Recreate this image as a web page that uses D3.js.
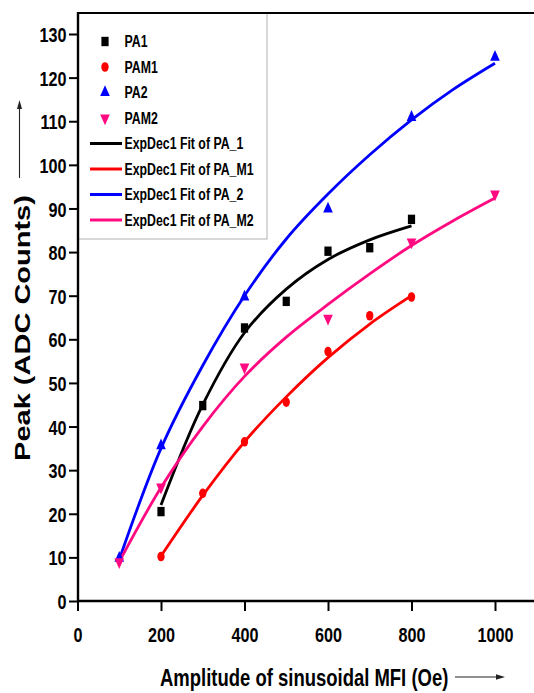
<!DOCTYPE html>
<html>
<head>
<meta charset="utf-8">
<script src="https://cdn.jsdelivr.net/npm/d3@7"></script>
<style>
  body { margin: 0; background: #fff; }
  svg text { font-family: "Liberation Sans", Arial, sans-serif; font-weight: bold; fill: #000; }
</style>
</head>
<body>
<svg id="chart" width="534" height="693"></svg>
<script>
// measured points
var xPA1 = [200, 300, 400, 500, 600, 700, 800];
var yPA1 = [20.5, 44.8, 62.6, 68.7, 80.2, 81, 87.5];
var xPAM1 = [200, 300, 400, 500, 600, 700, 800];
var yPAM1 = [10.2, 24.7, 36.5, 45.6, 57.2, 65.4, 69.7];
var xPA2 = [100, 200, 400, 600, 800, 1000];
var yPA2 = [9.8, 35.6, 69.7, 89.9, 110.9, 124.7];
var xPAM2 = [100, 200, 400, 600, 800, 1000];
var yPAM2 = [9, 26.1, 53.6, 64.8, 82.3, 93.3];

// fit curves
var fitX1 = [200, 300, 400, 500, 600, 700, 800];
var fitPA1 = [22, 45, 61.5, 71.5, 78.3, 82.8, 86];
var fitXM1 = [200, 300, 400, 500, 600, 700, 800];
var fitPAM1 = [10.3, 24.2, 36.5, 46.8, 55.8, 63.5, 70];
var fitX2 = [100, 200, 300, 400, 500, 600, 700, 800, 900, 1000];
var fitPA2 = [9.5, 35, 54, 70, 83, 93.3, 102.3, 110.3, 117.3, 123.3];
var fitXM2 = [100, 200, 300, 400, 500, 600, 700, 800, 900, 1000];
var fitPAM2 = [9, 26, 40, 51.5, 60.5, 68, 75, 81.5, 87.2, 92.4];

var xTicks = [0, 200, 400, 600, 800, 1000];
var xMinor = [100, 300, 500, 700, 900];
var yTicks = d3.range(0, 131, 10);
var yMinor = d3.range(5, 131, 10);

var legendNames = ["PA1", "PAM1", "PA2", "PAM2",
  "ExpDec1 Fit of PA_1", "ExpDec1 Fit of PA_M1", "ExpDec1 Fit of PA_2", "ExpDec1 Fit of PA_M2"];

var colors = ["#000000", "#ff0000", "#0000ff", "#ff0a80"];
var SQ = 0.77; // horizontal squeeze of the original figure

var svg = d3.select("#chart");

var x = d3.scaleLinear().domain([0, 1000]).range([77.5, 495]);
var y = d3.scaleLinear().domain([0, 130]).range([601, 34]);

// axes
var gy = svg.append("g").attr("transform", "translate(78,0)");
gy.call(d3.axisLeft(y).tickValues(yMinor).tickSize(5).tickSizeOuter(0).tickFormat(""));
gy.call(d3.axisLeft(y).tickValues(yTicks).tickSize(9).tickSizeOuter(0).tickFormat(d3.format("d")));
gy.selectAll(".domain").remove();
gy.selectAll("line").attr("stroke", "#000").attr("stroke-width", 2);
gy.selectAll("text")
  .attr("x", null).attr("dy", "0.36em")
  .attr("transform", "translate(-11.5,0) scale(" + SQ + ",1)")
  .style("font-size", "21px");
gy.attr("font-family", null).attr("font-size", null);

var gx = svg.append("g").attr("transform", "translate(0,601)");
gx.call(d3.axisBottom(x).tickValues(xMinor).tickSize(6).tickSizeOuter(0).tickFormat(""));
gx.call(d3.axisBottom(x).tickValues(xTicks).tickSize(10).tickSizeOuter(0).tickFormat(d3.format("d")));
gx.selectAll(".domain").remove();
gx.selectAll("line").attr("stroke", "#000").attr("stroke-width", 2);
gx.selectAll("text")
  .attr("y", null).attr("dy", null)
  .attr("transform", "translate(0,40.7) scale(" + SQ + ",1)")
  .style("font-size", "21px");
gx.attr("font-family", null).attr("font-size", null);

// legend box
svg.append("rect").attr("x", 78).attr("y", 13).attr("width", 189).attr("height", 226)
  .attr("fill", "none").attr("stroke", "#b0b0b0").attr("stroke-width", 1);

// frame lines
svg.append("line").attr("x1", 78).attr("x2", 78).attr("y1", 12).attr("y2", 602)
  .attr("stroke", "#000").attr("stroke-width", 2.4);
svg.append("line").attr("x1", 77).attr("x2", 534).attr("y1", 601).attr("y2", 601)
  .attr("stroke", "#000").attr("stroke-width", 2.4);
svg.append("line").attr("x1", 77).attr("x2", 534).attr("y1", 13).attr("y2", 13)
  .attr("stroke", "#000").attr("stroke-width", 2);

// fit lines
var line = d3.line().curve(d3.curveCatmullRom.alpha(0.5))
  .x(function(d) { return x(d[0]); })
  .y(function(d) { return y(d[1]); });

var fits = [
  d3.zip(fitX1, fitPA1),
  d3.zip(fitXM1, fitPAM1),
  d3.zip(fitX2, fitPA2),
  d3.zip(fitXM2, fitPAM2)
];
fits.forEach(function(f, i) {
  svg.append("path").datum(f).attr("d", line)
    .attr("fill", "none").attr("stroke", colors[i]).attr("stroke-width", 2.8);
});

// markers
var symTypes = [d3.symbolSquare, d3.symbolCircle, d3.symbolTriangle, d3.symbolTriangle];
var symSizes = [88, 72, 68, 68];
var symRot = [0, 0, 0, 180];
var series = [
  d3.zip(xPA1, yPA1),
  d3.zip(xPAM1, yPAM1),
  d3.zip(xPA2, yPA2),
  d3.zip(xPAM2, yPAM2)
];
function symbolAt(g, px, py, i) {
  g.append("path")
    .attr("d", d3.symbol().type(symTypes[i]).size(symSizes[i])())
    .attr("transform", "translate(" + px + "," + py + ") scale(" + SQ + ",1) rotate(" + symRot[i] + ")")
    .attr("fill", colors[i]);
}
var gm = svg.append("g");
series.forEach(function(s, i) {
  s.forEach(function(d) { symbolAt(gm, x(d[0]), y(d[1]), i); });
});

// legend entries
var lg = svg.append("g");
legendNames.forEach(function(name, i) {
  var cy = 41.5 + i * 25.5;
  if (i < 4) {
    symbolAt(lg, 105, cy, i);
  } else {
    lg.append("line").attr("x1", 90).attr("x2", 122).attr("y1", cy).attr("y2", cy)
      .attr("stroke", colors[i - 4]).attr("stroke-width", 3);
  }
  lg.append("text")
    .attr("transform", "translate(124.5," + cy + ") scale(" + SQ + ",1)")
    .attr("dy", "0.36em")
    .style("font-size", "16px")
    .text(name);
});

// axis titles
svg.append("text")
  .attr("transform", "translate(160,685.7) scale(" + SQ + ",1)")
  .style("font-size", "24px")
  .text("Amplitude of sinusoidal MFI (Oe)");
svg.append("text")
  .attr("transform", "translate(29.5,328) scale(" + SQ + ",1) rotate(-90)")
  .attr("text-anchor", "middle")
  .style("font-size", "29px")
  .text("Peak (ADC Counts)");

// arrows beside titles
svg.append("line").attr("x1", 455).attr("x2", 498).attr("y1", 677).attr("y2", 677)
  .attr("stroke", "#222").attr("stroke-width", 1.1);
svg.append("path").attr("d", "M505,677 L496,674.2 L496,679.8 Z").attr("fill", "#222");
svg.append("line").attr("x1", 19.5).attr("x2", 19.5).attr("y1", 178).attr("y2", 108)
  .attr("stroke", "#222").attr("stroke-width", 1.1);
svg.append("path").attr("d", "M19.5,100 L17,109 L22,109 Z").attr("fill", "#222");
</script>
</body>
</html>
